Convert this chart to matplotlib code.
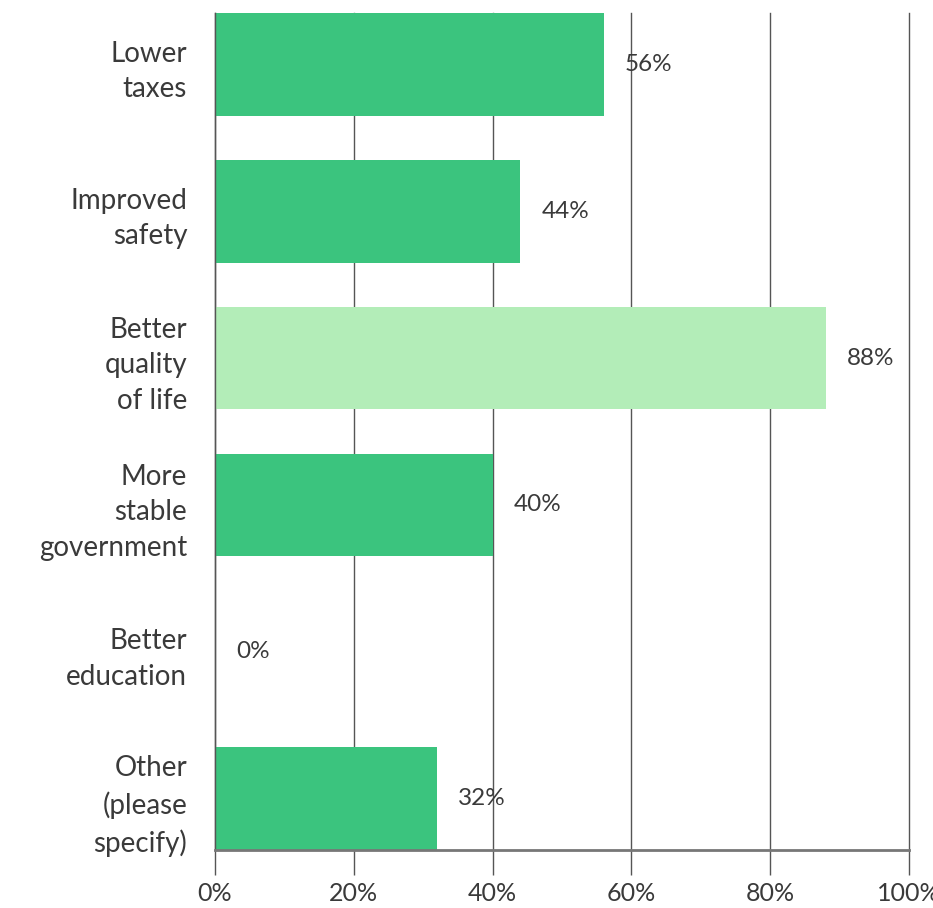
import matplotlib
matplotlib.use("Agg")
import matplotlib.pyplot as plt

categories = ["Lower\ntaxes", "Improved\nsafety", "Better\nquality\nof life",
              "More\nstable\ngovernment", "Better\neducation", "Other\n(please\nspecify)"]
values = [56, 44, 88, 40, 0, 32]
highlight = [False, False, True, False, False, False]
xticks = [0, 20, 40, 60, 80, 100]
xtick_labels = ["0%", "20%", "40%", "60%", "80%", "100%"]

plt.rcParams['font.family'] = ['Lato', 'DejaVu Sans']
text_color = "#3a3a3a"

fig = plt.figure(figsize=(9.33, 9.08), dpi=100)
ax = fig.add_axes([215/933, 1-850/908, 694/933, (850-13)/908])

ypos = list(range(len(categories)))
colors = ["#b3edb8" if h else "#3bc47e" for h in highlight]
ax.barh(ypos, values, height=0.70, color=colors, zorder=2)
ax.set_ylim(len(categories) - 1 + 0.35, -0.35)
ax.set_xlim(0, 100)

for y, v in zip(ypos, values):
    ax.annotate(f"{v}%", xy=(v, y), xytext=(21, 0), textcoords="offset pixels",
                va="center", ha="left", fontsize=17.5, color=text_color, zorder=3)

ax.set_yticks(ypos)
ax.set_yticklabels(categories, fontsize=20, color=text_color, ha="right",
                   linespacing=1.45)
ax.tick_params(axis="y", length=0, pad=20)

ax.set_xticks(xticks)
ax.set_xticklabels(xtick_labels, fontsize=18, color=text_color)
ax.tick_params(axis="x", length=18, width=1, color="#555555", pad=5)

ax.grid(axis="x", color="#555555", linewidth=1, zorder=1)
ax.grid(axis="y", visible=False)
for gl in ax.xaxis.get_gridlines():
    gl.set_clip_on(False)
for s in ["top", "right"]:
    ax.spines[s].set_visible(False)
ax.spines["left"].set_color("#555555")
ax.spines["left"].set_linewidth(1)
ax.spines["bottom"].set_color("#777777")
ax.spines["bottom"].set_linewidth(2)
ax.spines["bottom"].set_zorder(4)

fig.savefig("out.png", dpi=100)
